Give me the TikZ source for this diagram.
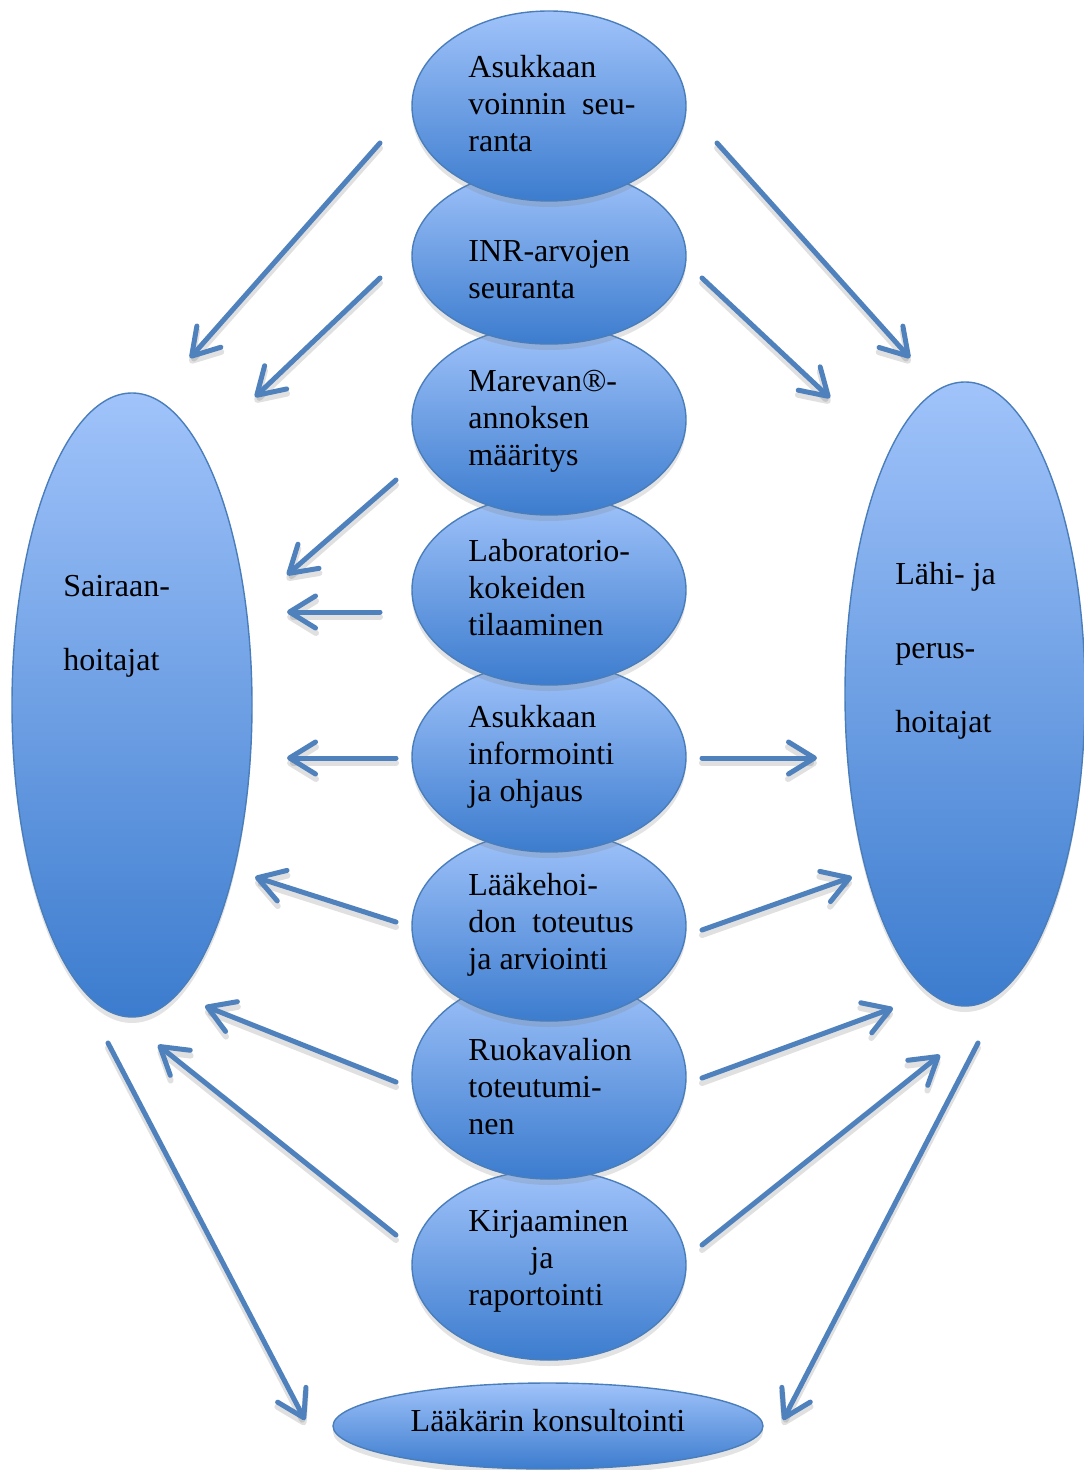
\documentclass[tikz,border=0pt]{standalone}
\usepackage{fontspec}
\setmainfont{Liberation Serif}
\usetikzlibrary{shapes.geometric,arrows.meta,shadows}
\definecolor{etop}{RGB}{160,195,250}
\definecolor{ebot}{RGB}{60,124,206}
\definecolor{eline}{RGB}{74,126,187}
\definecolor{arr}{RGB}{79,129,189}
\begin{document}
\begin{tikzpicture}[x=0.5pt,y=-0.5pt,
  bub/.style={ellipse, draw=eline, line width=0.7pt, top color=etop, bottom color=ebot, inner sep=0pt,
    drop shadow={shadow xshift=0pt, shadow yshift=-3pt, opacity=0.22}},
  mid/.style={bub, minimum width=137pt, minimum height=95pt},
  txt/.style={font=\fontsize{16}{18.5}\selectfont, align=left, anchor=west, inner sep=0pt},
  arw/.style={draw=arr, line width=2.5pt, line cap=round, -{Straight Barb[length=13pt,width=16pt,round]}},
  arwsh/.style={draw=black, opacity=0.12, line width=3pt, line cap=round, -{Straight Barb[length=13pt,width=16pt,round]}}]
\useasboundingbox (0,0) rectangle (1083,1470);

% side ellipses
\node[bub, minimum width=120pt, minimum height=312pt] (sair) at (132,705) {};
\node[bub, minimum width=120pt, minimum height=312pt] (lahi) at (965,694) {};
\node[bub, minimum width=215pt, minimum height=43pt] (laak) at (548,1426) {};

% central stack, drawn bottom first
\node[mid] (e8) at (549,1265) {};
\node[mid, minimum height=102pt] (e7) at (549,1077) {};
\node[mid] (e6) at (549,926) {};
\node[mid] (e5) at (549,757) {};
\node[mid] (e4) at (549,590) {};
\node[mid] (e3) at (549,420) {};
\node[mid, minimum height=88pt] (e2) at (549,256) {};
\node[mid] (e1) at (549,106) {};

% texts
\node[txt] (t1) at (468,104) {Asukkaan\\voinnin\ \ seu-\\ranta};
\node[txt] (t2) at (468,270) {INR-arvojen\\seuranta};
\node[txt] (t3) at (468,421) {Marevan®-\\annoksen\\määritys};
\node[txt] (t4) at (468,588) {Laboratorio-\\kokeiden\\tilaaminen};
\node[txt] (t5) at (468,757) {Asukkaan\\informointi\\ja ohjaus};
\node[txt] (t6) at (468,925) {Lääkehoi-\\don\ \ toteutus\\ja arviointi};
\node[txt] (t7) at (468,1087) {Ruokavalion\\toteutumi-\\nen};
\node[txt] (t8) at (468,1261) {Kirjaaminen\\\hspace*{31pt}ja\\raportointi};
\node[txt, font=\fontsize{16}{37}\selectfont] (ts) at (63,626) {Sairaan-\\hoitajat};
\node[txt, font=\fontsize{16}{37}\selectfont] (tl) at (895,651) {Lähi- ja\\perus-\\hoitajat};
\node[txt, anchor=center] (tk) at (548,1421) {Lääkärin konsultointi};

% arrow end points
\coordinate (a1s) at (380,143);  \coordinate (a1e) at (190,358);
\coordinate (a2s) at (380,278);  \coordinate (a2e) at (255,397);
\coordinate (a3s) at (396,480);  \coordinate (a3e) at (287,575);
\coordinate (a4s) at (380,612);  \coordinate (a4e) at (287,612);
\coordinate (a5s) at (396,758);  \coordinate (a5e) at (287,758);
\coordinate (a6s) at (396,922);  \coordinate (a6e) at (255,877);
\coordinate (a7s) at (396,1082); \coordinate (a7e) at (205,1006);
\coordinate (a8s) at (396,1235); \coordinate (a8e) at (158,1045);
\coordinate (a9s) at (108,1043); \coordinate (a9e) at (305,1420);
\coordinate (b1s) at (717,143);  \coordinate (b1e) at (910,358);
\coordinate (b2s) at (702,278);  \coordinate (b2e) at (830,398);
\coordinate (b3s) at (702,758);  \coordinate (b3e) at (817,758);
\coordinate (b4s) at (702,930);  \coordinate (b4e) at (852,877);
\coordinate (b5s) at (702,1078); \coordinate (b5e) at (893,1008);
\coordinate (b6s) at (702,1245); \coordinate (b6e) at (940,1055);
\coordinate (b7s) at (978,1043); \coordinate (b7e) at (783,1420);

\foreach \p in {a1,a2,a3,a4,a5,a6,a7,a8,a9,b1,b2,b3,b4,b5,b6,b7}{
  \draw[arwsh] ([yshift=-2.5pt]\p s) -- ([yshift=-2.5pt]\p e);
  \draw[arw] (\p s) -- (\p e);
}
\end{tikzpicture}
\end{document}
